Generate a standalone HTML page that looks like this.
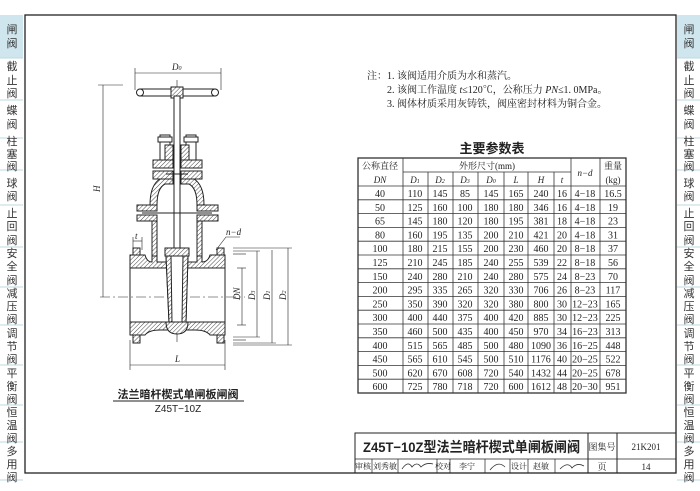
<!DOCTYPE html>
<html><head><meta charset="utf-8"><style>
body{margin:0;background:#fff;width:700px;height:491px;overflow:hidden;font-family:"Liberation Serif","Noto Serif CJK SC",serif;}
svg{position:absolute;left:0;top:0}
</style></head><body>
<svg width="700" height="491" viewBox="0 0 700 491" xmlns="http://www.w3.org/2000/svg">
<defs>
<pattern id="h" width="3" height="3" patternUnits="userSpaceOnUse" patternTransform="rotate(45)">
<rect width="3" height="3" fill="#fff"/><line x1="0" y1="0" x2="0" y2="3" stroke="#333" stroke-width="0.9"/></pattern>
</defs>
<g font-family="Liberation Sans, Noto Sans CJK SC, sans-serif" font-size="11" fill="#333" text-anchor="middle">
<rect x="0" y="15" width="23" height="43" fill="#cfe6ee"/>
<rect x="677" y="15" width="23" height="43" fill="#cfe6ee"/>
<g stroke="#bcd8e2" stroke-width="1">
<line x1="0" y1="58" x2="23" y2="58"/><line x1="0" y1="100" x2="23" y2="100"/><line x1="0" y1="138" x2="23" y2="138"/><line x1="0" y1="170" x2="23" y2="170"/><line x1="0" y1="205" x2="23" y2="205"/><line x1="0" y1="247" x2="23" y2="247"/><line x1="0" y1="287" x2="23" y2="287"/><line x1="0" y1="325" x2="23" y2="325"/><line x1="0" y1="365" x2="23" y2="365"/><line x1="0" y1="405" x2="23" y2="405"/><line x1="0" y1="442" x2="23" y2="442"/><line x1="0" y1="480" x2="23" y2="480"/>
<line x1="677" y1="58" x2="700" y2="58"/><line x1="677" y1="100" x2="700" y2="100"/><line x1="677" y1="138" x2="700" y2="138"/><line x1="677" y1="170" x2="700" y2="170"/><line x1="677" y1="205" x2="700" y2="205"/><line x1="677" y1="247" x2="700" y2="247"/><line x1="677" y1="287" x2="700" y2="287"/><line x1="677" y1="325" x2="700" y2="325"/><line x1="677" y1="365" x2="700" y2="365"/><line x1="677" y1="405" x2="700" y2="405"/><line x1="677" y1="442" x2="700" y2="442"/><line x1="677" y1="480" x2="700" y2="480"/>
</g>
<g id="sb">
<text x="12" y="33">闸</text><text x="12" y="47">阀</text>
<text x="12" y="70">截</text><text x="12" y="84">止</text><text x="12" y="97">阀</text>
<text x="12" y="114">蝶</text><text x="12" y="128">阀</text>
<text x="12" y="145">柱</text><text x="12" y="158">塞</text><text x="12" y="170">阀</text>
<text x="12" y="187">球</text><text x="12" y="200">阀</text>
<text x="12" y="217">止</text><text x="12" y="230">回</text><text x="12" y="244">阀</text>
<text x="12" y="257">安</text><text x="12" y="270">全</text><text x="12" y="284">阀</text>
<text x="12" y="297">减</text><text x="12" y="310">压</text><text x="12" y="323">阀</text>
<text x="12" y="337">调</text><text x="12" y="350">节</text><text x="12" y="363">阀</text>
<text x="12" y="377">平</text><text x="12" y="390">衡</text><text x="12" y="403">阀</text>
<text x="12" y="416">恒</text><text x="12" y="429">温</text><text x="12" y="442">阀</text>
<text x="12" y="455">多</text><text x="12" y="468">用</text><text x="12" y="481">阀</text>
</g>
<use href="#sb" x="677"/>
</g>
<rect x="25" y="15" width="651" height="458" fill="none" stroke="#222" stroke-width="1.3"/>
<g font-size="10" fill="#222">
<text x="367" y="79">注：1. 该阀适用介质为水和蒸汽。</text>
<text x="387" y="93">2. 该阀工作温度 <tspan font-style="italic">t</tspan>≤120℃，公称压力 <tspan font-style="italic">PN</tspan>≤1. 0MPa。</text>
<text x="387" y="107">3. 阀体材质采用灰铸铁，阀座密封材料为铜合金。</text>
</g>
<text x="492" y="153" font-size="13" font-weight="bold" text-anchor="middle" font-family="Liberation Sans, Noto Sans CJK SC, sans-serif" fill="#222">主要参数表</text>
<g stroke="#333" stroke-width="0.8" fill="none">
<rect x="358" y="158" width="268" height="235" stroke-width="1.3"/>
<line x1="403" y1="172" x2="571" y2="172"/>
<line x1="358" y1="186" x2="626" y2="186"/>
<line x1="403" y1="158" x2="403" y2="393"/><line x1="571" y1="158" x2="571" y2="393"/><line x1="600" y1="158" x2="600" y2="393"/>
<line x1="428" y1="172" x2="428" y2="393"/><line x1="453" y1="172" x2="453" y2="393"/><line x1="478" y1="172" x2="478" y2="393"/><line x1="504" y1="172" x2="504" y2="393"/><line x1="528" y1="172" x2="528" y2="393"/><line x1="554" y1="172" x2="554" y2="393"/>
<line x1="358" y1="199.8" x2="626" y2="199.8"/><line x1="358" y1="213.6" x2="626" y2="213.6"/><line x1="358" y1="227.4" x2="626" y2="227.4"/><line x1="358" y1="241.2" x2="626" y2="241.2"/><line x1="358" y1="255" x2="626" y2="255"/><line x1="358" y1="268.8" x2="626" y2="268.8"/><line x1="358" y1="282.6" x2="626" y2="282.6"/><line x1="358" y1="296.4" x2="626" y2="296.4"/><line x1="358" y1="310.2" x2="626" y2="310.2"/><line x1="358" y1="324" x2="626" y2="324"/><line x1="358" y1="337.8" x2="626" y2="337.8"/><line x1="358" y1="351.6" x2="626" y2="351.6"/><line x1="358" y1="365.4" x2="626" y2="365.4"/><line x1="358" y1="379.2" x2="626" y2="379.2"/>
</g>
<g font-size="9" fill="#222" text-anchor="middle">
<text x="380" y="169">公称直径</text><text x="380" y="183" font-style="italic">DN</text>
<text x="487" y="169">外形尺寸(mm)</text>
<text x="585" y="176" font-style="italic">n−d</text>
<text x="613" y="169">重量</text><text x="613" y="183">(kg)</text>
<g font-style="italic"><text x="415" y="183">D<tspan font-size="6">1</tspan></text><text x="440" y="183">D<tspan font-size="6">2</tspan></text><text x="465" y="183">D<tspan font-size="6">3</tspan></text><text x="491" y="183">D<tspan font-size="6">0</tspan></text><text x="516" y="183">L</text><text x="541" y="183">H</text><text x="562" y="183">t</text></g>
</g>
<g font-size="10" fill="#222" text-anchor="middle">
<text y="197"><tspan x="380">40</tspan><tspan x="415">110</tspan><tspan x="440">145</tspan><tspan x="465">85</tspan><tspan x="491">145</tspan><tspan x="516">165</tspan><tspan x="541">240</tspan><tspan x="562">16</tspan><tspan x="585">4−18</tspan><tspan x="613">16.5</tspan></text>
<text y="210.8"><tspan x="380">50</tspan><tspan x="415">125</tspan><tspan x="440">160</tspan><tspan x="465">100</tspan><tspan x="491">180</tspan><tspan x="516">180</tspan><tspan x="541">346</tspan><tspan x="562">16</tspan><tspan x="585">4−18</tspan><tspan x="613">19</tspan></text>
<text y="224.6"><tspan x="380">65</tspan><tspan x="415">145</tspan><tspan x="440">180</tspan><tspan x="465">120</tspan><tspan x="491">180</tspan><tspan x="516">195</tspan><tspan x="541">381</tspan><tspan x="562">18</tspan><tspan x="585">4−18</tspan><tspan x="613">23</tspan></text>
<text y="238.4"><tspan x="380">80</tspan><tspan x="415">160</tspan><tspan x="440">195</tspan><tspan x="465">135</tspan><tspan x="491">200</tspan><tspan x="516">210</tspan><tspan x="541">421</tspan><tspan x="562">20</tspan><tspan x="585">4−18</tspan><tspan x="613">31</tspan></text>
<text y="252.2"><tspan x="380">100</tspan><tspan x="415">180</tspan><tspan x="440">215</tspan><tspan x="465">155</tspan><tspan x="491">200</tspan><tspan x="516">230</tspan><tspan x="541">460</tspan><tspan x="562">20</tspan><tspan x="585">8−18</tspan><tspan x="613">37</tspan></text>
<text y="266"><tspan x="380">125</tspan><tspan x="415">210</tspan><tspan x="440">245</tspan><tspan x="465">185</tspan><tspan x="491">240</tspan><tspan x="516">255</tspan><tspan x="541">539</tspan><tspan x="562">22</tspan><tspan x="585">8−18</tspan><tspan x="613">56</tspan></text>
<text y="279.8"><tspan x="380">150</tspan><tspan x="415">240</tspan><tspan x="440">280</tspan><tspan x="465">210</tspan><tspan x="491">240</tspan><tspan x="516">280</tspan><tspan x="541">575</tspan><tspan x="562">24</tspan><tspan x="585">8−23</tspan><tspan x="613">70</tspan></text>
<text y="293.6"><tspan x="380">200</tspan><tspan x="415">295</tspan><tspan x="440">335</tspan><tspan x="465">265</tspan><tspan x="491">320</tspan><tspan x="516">330</tspan><tspan x="541">706</tspan><tspan x="562">26</tspan><tspan x="585">8−23</tspan><tspan x="613">117</tspan></text>
<text y="307.4"><tspan x="380">250</tspan><tspan x="415">350</tspan><tspan x="440">390</tspan><tspan x="465">320</tspan><tspan x="491">320</tspan><tspan x="516">380</tspan><tspan x="541">800</tspan><tspan x="562">30</tspan><tspan x="585">12−23</tspan><tspan x="613">165</tspan></text>
<text y="321.2"><tspan x="380">300</tspan><tspan x="415">400</tspan><tspan x="440">440</tspan><tspan x="465">375</tspan><tspan x="491">400</tspan><tspan x="516">420</tspan><tspan x="541">885</tspan><tspan x="562">30</tspan><tspan x="585">12−23</tspan><tspan x="613">225</tspan></text>
<text y="335"><tspan x="380">350</tspan><tspan x="415">460</tspan><tspan x="440">500</tspan><tspan x="465">435</tspan><tspan x="491">400</tspan><tspan x="516">450</tspan><tspan x="541">970</tspan><tspan x="562">34</tspan><tspan x="585">16−23</tspan><tspan x="613">313</tspan></text>
<text y="348.8"><tspan x="380">400</tspan><tspan x="415">515</tspan><tspan x="440">565</tspan><tspan x="465">485</tspan><tspan x="491">500</tspan><tspan x="516">480</tspan><tspan x="541">1090</tspan><tspan x="562">36</tspan><tspan x="585">16−25</tspan><tspan x="613">448</tspan></text>
<text y="362.6"><tspan x="380">450</tspan><tspan x="415">565</tspan><tspan x="440">610</tspan><tspan x="465">545</tspan><tspan x="491">500</tspan><tspan x="516">510</tspan><tspan x="541">1176</tspan><tspan x="562">40</tspan><tspan x="585">20−25</tspan><tspan x="613">522</tspan></text>
<text y="376.4"><tspan x="380">500</tspan><tspan x="415">620</tspan><tspan x="440">670</tspan><tspan x="465">608</tspan><tspan x="491">720</tspan><tspan x="516">540</tspan><tspan x="541">1432</tspan><tspan x="562">44</tspan><tspan x="585">20−25</tspan><tspan x="613">678</tspan></text>
<text y="390.2"><tspan x="380">600</tspan><tspan x="415">725</tspan><tspan x="440">780</tspan><tspan x="465">718</tspan><tspan x="491">720</tspan><tspan x="516">600</tspan><tspan x="541">1612</tspan><tspan x="562">48</tspan><tspan x="585">20−30</tspan><tspan x="613">951</tspan></text>
</g>
<g stroke="#222" stroke-width="1" fill="none">
<path d="M355 473 V433 H676"/>
<line x1="355" y1="459" x2="676" y2="459" stroke-width="0.8"/>
<line x1="588" y1="433" x2="588" y2="473"/><line x1="617" y1="433" x2="617" y2="473"/>
<g stroke-width="0.7"><line x1="372" y1="459" x2="372" y2="473"/><line x1="398" y1="459" x2="398" y2="473"/><line x1="437" y1="459" x2="437" y2="473"/><line x1="450" y1="459" x2="450" y2="473"/><line x1="485" y1="459" x2="485" y2="473"/><line x1="510" y1="459" x2="510" y2="473"/><line x1="528" y1="459" x2="528" y2="473"/><line x1="555" y1="459" x2="555" y2="473"/></g>
</g>
<text x="363" y="452" font-size="14" font-weight="bold" textLength="217" lengthAdjust="spacingAndGlyphs" font-family="Liberation Sans, Noto Sans CJK SC, sans-serif" fill="#222">Z45T−10Z型法兰暗杆楔式单闸板闸阀</text>
<g font-size="9" fill="#222" text-anchor="middle">
<text x="602" y="450">图集号</text><text x="646" y="450">21K201</text>
<text x="602" y="470">页</text><text x="646" y="470">14</text>
</g>
<g font-size="8" fill="#222" text-anchor="middle">
<text x="363" y="469">审核</text><text x="385" y="469">刘秀敏</text><text x="443" y="469">校对</text><text x="467" y="469">李宁</text><text x="519" y="469">设计</text><text x="541" y="469">赵敏</text>
</g>
<path d="M402 469 q6-9 10-2 q5-6 9 0 q5-5 12-3 M490 470 q8-10 15-3 M560 469 q8-8 12-1 q5-6 12-2" stroke="#333" fill="none" stroke-width="0.8"/>
<g stroke="#222" stroke-width="1" fill="none">
<g stroke-width="0.6">
<line x1="135" y1="73" x2="221" y2="73"/><line x1="135" y1="68" x2="135" y2="90"/><line x1="221" y1="68" x2="221" y2="90"/>
<line x1="103" y1="85" x2="103" y2="297"/><line x1="98" y1="85" x2="123" y2="85"/>
<line x1="130" y1="365" x2="225" y2="365"/><line x1="130" y1="340" x2="130" y2="370"/><line x1="225" y1="340" x2="225" y2="370"/>
<line x1="242" y1="268" x2="242" y2="325"/><line x1="237" y1="268" x2="246" y2="268"/><line x1="237" y1="325" x2="246" y2="325"/>
<line x1="257" y1="251" x2="257" y2="337"/><line x1="272" y1="250" x2="272" y2="343"/><line x1="288" y1="248" x2="288" y2="345"/>
<line x1="233" y1="248" x2="292" y2="248"/><line x1="233" y1="251" x2="260" y2="251"/><line x1="233" y1="254" x2="246" y2="254"/>
<line x1="233" y1="337" x2="260" y2="337"/><line x1="233" y1="340" x2="246" y2="340"/><line x1="233" y1="343" x2="276" y2="343"/><line x1="233" y1="345" x2="292" y2="345"/>
<line x1="133" y1="241" x2="142" y2="241"/><line x1="133" y1="237" x2="133" y2="250"/><line x1="142" y1="237" x2="142" y2="250"/>
<path d="M216 250 L226 237 H240"/>
<line x1="100" y1="297" x2="245" y2="297" stroke-dasharray="10 3 2 3"/>
<line x1="177" y1="80" x2="177" y2="345" stroke-dasharray="10 3 2 3"/>
</g>
<rect x="137" y="89" width="81" height="7" rx="3.5" fill="#fff"/>
<circle cx="140" cy="92.5" r="3.5" fill="#fff"/><circle cx="215" cy="92.5" r="3.5" fill="#fff"/>
<rect x="171" y="87" width="12" height="11" fill="url(#h)"/>
<rect x="174" y="96" width="6" height="170" fill="#fff"/>
<rect x="160" y="135" width="10" height="25" fill="#fff"/><rect x="186" y="135" width="10" height="25" fill="#fff"/>
<rect x="158" y="137" width="14" height="5" fill="#fff"/><rect x="184" y="137" width="14" height="5" fill="#fff"/>
<rect x="165" y="145" width="8" height="15" fill="url(#h)"/><rect x="181" y="145" width="8" height="15" fill="url(#h)"/>
<rect x="153" y="160" width="20" height="8" fill="url(#h)"/><rect x="181" y="160" width="21" height="8" fill="url(#h)"/>
<rect x="153" y="171" width="20" height="8" fill="url(#h)"/><rect x="181" y="171" width="21" height="8" fill="url(#h)"/>
<line x1="166" y1="174" x2="188" y2="174"/>
<path d="M173 179 H160 Q150 185 150 205 H157 Q157 188 165 184 H173 Z" fill="url(#h)"/>
<path d="M181 179 H194 Q204 185 204 205 H197 Q197 188 189 184 H181 Z" fill="url(#h)"/>
<rect x="137" y="205" width="20" height="6" fill="url(#h)"/><rect x="197" y="205" width="21" height="6" fill="url(#h)"/>
<rect x="137" y="215" width="20" height="6" fill="url(#h)"/><rect x="197" y="215" width="21" height="6" fill="url(#h)"/>
<line x1="142" y1="213" x2="212" y2="213"/>
<rect x="152" y="221" width="5" height="35" fill="url(#h)"/><rect x="197" y="221" width="5" height="35" fill="url(#h)"/>
<rect x="133" y="248" width="7" height="7" fill="url(#h)"/><rect x="217" y="248" width="7" height="7" fill="url(#h)"/>
<rect x="133" y="335" width="7" height="8" fill="url(#h)"/><rect x="217" y="335" width="7" height="8" fill="url(#h)"/>
<path d="M130 255 H145 Q147 262 152 262 V256 H157 V262 H197 V256 H202 V262 Q208 262 210 255 H225 V268 H130 Z" fill="url(#h)"/>
<path d="M130 322 H225 V335 H210 Q206 330 195 330 H160 Q149 330 145 335 H130 Z" fill="url(#h)"/>
<line x1="130" y1="268" x2="130" y2="322"/><line x1="225" y1="268" x2="225" y2="322"/>
<rect x="165" y="248" width="24" height="8" fill="url(#h)"/>
<path d="M166 256 H188 L186 322 H169 Z" fill="#fff"/>
<path d="M166 256 H171 L172 322 H169 Z M188 256 H183 L182 322 H186 Z" fill="url(#h)"/>
<path d="M166 322 Q166 334 177 334 Q188 334 188 322 Z" fill="url(#h)"/>
</g>
<g font-size="9" font-style="italic" fill="#222">
<text x="172" y="70">D<tspan font-size="6">0</tspan></text>
<text x="100" y="192" transform="rotate(-90 100 192)">H</text>
<text x="175" y="362">L</text>
<text x="226" y="235">n−d</text>
<text x="135" y="239">t</text>
<text x="240" y="300" transform="rotate(-90 240 300)">DN</text>
<text x="255" y="300" transform="rotate(-90 255 300)">D<tspan font-size="6">3</tspan></text>
<text x="270" y="300" transform="rotate(-90 270 300)">D<tspan font-size="6">1</tspan></text>
<text x="286" y="300" transform="rotate(-90 286 300)">D<tspan font-size="6">2</tspan></text>
</g>
<text x="178" y="398" font-size="11" font-weight="bold" text-anchor="middle" font-family="Liberation Sans, Noto Sans CJK SC, sans-serif" fill="#222">法兰暗杆楔式单闸板闸阀</text>
<line x1="113" y1="401" x2="244" y2="401" stroke="#222" stroke-width="1"/>
<text x="178" y="412" font-size="10" text-anchor="middle" font-family="Liberation Sans, sans-serif" fill="#222">Z45T−10Z</text>
</svg>
</body></html>
